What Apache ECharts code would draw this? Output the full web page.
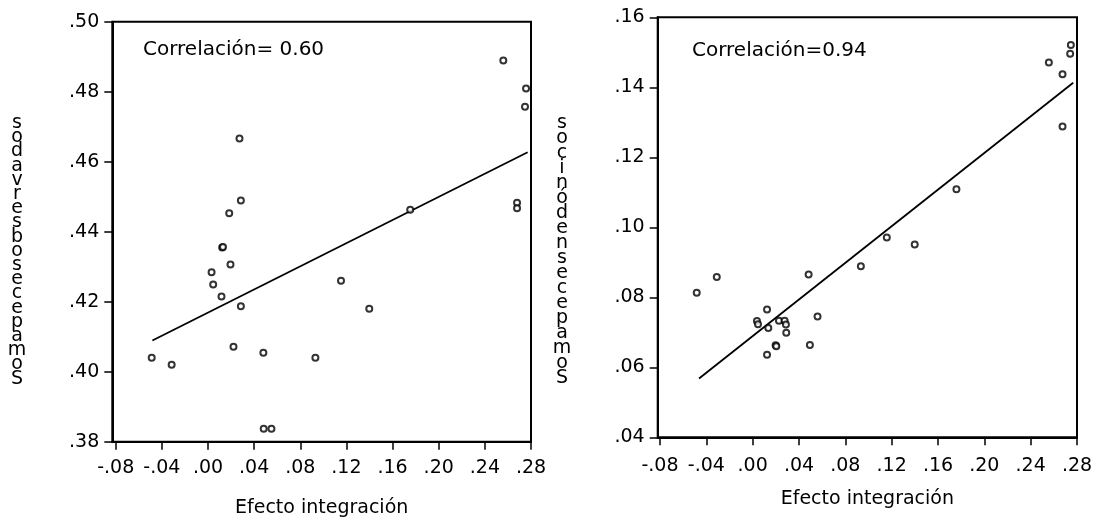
<!DOCTYPE html>
<html>
<head>
<meta charset="utf-8">
<script src="https://cdn.jsdelivr.net/npm/echarts@6/dist/echarts.min.js"></script>
<style>
html,body{margin:0;padding:0;background:#fff;}
#c{width:1099px;height:524px;}
</style>
</head>
<body>
<div id="c"></div>
<script>
// ---- data ----
var xTicks = [-0.08, -0.04, 0.00, 0.04, 0.08, 0.12, 0.16, 0.20, 0.24, 0.28];

var leftX = [-0.0488, -0.0315, 0.0031, 0.0045, 0.0117, 0.0123, 0.0130, 0.0184, 0.0195, 0.0221, 0.0273, 0.0285, 0.0285, 0.0480, 0.0483, 0.0550, 0.0931, 0.1153, 0.1398, 0.1753, 0.2560, 0.2757, 0.2748, 0.2679, 0.2679];
var leftY = [0.4040, 0.4020, 0.4284, 0.4249, 0.4215, 0.4355, 0.4356, 0.4453, 0.4306, 0.4071, 0.4666, 0.4489, 0.4187, 0.4054, 0.3837, 0.3837, 0.4040, 0.4260, 0.4180, 0.4463, 0.4889, 0.4809, 0.4757, 0.4483, 0.4467];
var leftFitX = [-0.0482, 0.2771];
var leftFitY = [0.4089, 0.4627];

var rightX = [-0.0483, -0.0310, 0.0037, 0.0046, 0.0124, 0.0135, 0.0124, 0.0198, 0.0204, 0.0227, 0.0276, 0.0287, 0.0290, 0.0483, 0.0494, 0.0560, 0.0934, 0.1158, 0.1399, 0.1759, 0.2557, 0.2675, 0.2675, 0.2747, 0.2741];
var rightY = [0.0813, 0.0858, 0.0732, 0.0723, 0.0765, 0.0712, 0.0636, 0.0663, 0.0660, 0.0733, 0.0733, 0.0722, 0.0699, 0.0865, 0.0664, 0.0745, 0.0889, 0.0971, 0.0951, 0.1109, 0.1471, 0.1437, 0.1288, 0.1521, 0.1496];
var rightFitX = [-0.0463, 0.2767];
var rightFitY = [0.0568, 0.1413];

var leftCorr = 'Correlación= 0.60';
var rightCorr = 'Correlación=0.94';
var xTitle = 'Efecto integración';
var leftYTitleGlyphs = ['s','o','d','a','v','r','e','s','b','o','s','e','c','e','p','a','m','o','S'];
var rightYTitleGlyphs = ['s','o','c','i','n','ó','d','e','n','s','e','c','e','p','a','m','o','S'];

// ---- chart ----
var FONT = 'DejaVu Sans';
function fmtX(v){
  var a = Math.abs(v);
  var s = '.' + String(Math.round(a*100)).padStart(2,'0');
  return (v < -1e-9 ? '-' : '') + s;
}
function fmtY(v){
  return '.' + String(Math.round(v*100)).padStart(2,'0');
}
function pairs(xs, ys){ return xs.map(function(x,i){ return [x, ys[i]]; }); }

function makeX(idx, min, gap, margin){
  return {
    type:'value', gridIndex: idx, min: min, max: 0.28,
    name: xTitle, nameLocation:'middle', nameGap: gap,
    nameTextStyle:{color:'#000', fontFamily:FONT, fontSize:19},
    axisLine:{show:true, onZero:false, lineStyle:{color:'#000', width:2}},
    axisTick:{show:true, inside:false, length:8, customValues: xTicks, lineStyle:{color:'#000', width:1.5}},
    axisLabel:{show:true, customValues: xTicks, margin: margin, color:'#000', fontFamily:FONT, fontSize:19, formatter: fmtX, hideOverlap:false},
    splitLine:{show:false}
  };
}
function makeY(idx, min, max){
  return {
    type:'value', gridIndex: idx, min: min, max: max, interval: 0.02,
    axisLine:{show:true, onZero:false, lineStyle:{color:'#000', width:2}},
    axisTick:{show:true, inside:false, length:8, lineStyle:{color:'#000', width:1.5}},
    axisLabel:{show:true, margin: 13, color:'#000', fontFamily:FONT, fontSize:19, formatter: fmtY, showMinLabel:true, showMaxLabel:true},
    splitLine:{show:false}
  };
}
function scatter(idx, xs, ys){
  return {
    type:'scatter', xAxisIndex: idx, yAxisIndex: idx,
    data: pairs(xs, ys), symbol:'circle', symbolSize:6,
    itemStyle:{color:'#fff', borderColor:'#000', borderWidth:2},
    silent:true, z:3
  };
}
function fit(idx, xs, ys){
  return {
    type:'line', xAxisIndex: idx, yAxisIndex: idx,
    data: pairs(xs, ys), showSymbol:false, symbol:'none',
    lineStyle:{color:'#000', width:1.8}, silent:true, z:2
  };
}

var chart = echarts.init(document.getElementById('c'), null, {renderer:'canvas'});
chart.setOption({
  backgroundColor:'#fff',
  animation:false,
  grid:[
    {left:112.3, top:21.7, width:418.7, height:420, show:true, borderColor:'#000', borderWidth:2, backgroundColor:'transparent'},
    {left:657.7, top:17.3, width:419.3, height:420, show:true, borderColor:'#000', borderWidth:2, backgroundColor:'transparent'}
  ],
  xAxis:[ makeX(0, -0.08295, 56.5, 17), makeX(1, -0.08199, 52, 19) ],
  yAxis:[ makeY(0, 0.38, 0.50), makeY(1, 0.04, 0.16) ],
  series:[
    fit(0, leftFitX, leftFitY), scatter(0, leftX, leftY),
    fit(1, rightFitX, rightFitY), scatter(1, rightX, rightY)
  ],
  graphic:[
    {type:'text', left:143, top:40, style:{text:leftCorr, fill:'#000', font:'20px "'+FONT+'"'}},
    {type:'text', left:692, top:41, style:{text:rightCorr, fill:'#000', font:'20px "'+FONT+'"'}},
    {type:'text', x:17, y:116, style:{text:leftYTitleGlyphs.join('\n'), fill:'#000', font:'19px "'+FONT+'"', lineHeight:14.2, align:'center', verticalAlign:'top'}},
    {type:'text', x:562, y:116, style:{text:rightYTitleGlyphs.join('\n'), fill:'#000', font:'19px "'+FONT+'"', lineHeight:15, align:'center', verticalAlign:'top'}}
  ]
});
</script>
</body>
</html>
